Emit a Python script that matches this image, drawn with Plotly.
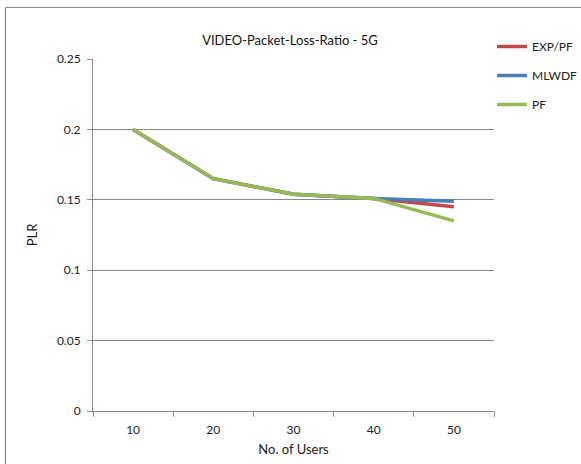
import plotly.graph_objects as go

users = ["10", "20", "30", "40", "50"]
exp_pf = [0.200, 0.165, 0.154, 0.151, 0.145]
mlwdf = [0.200, 0.165, 0.154, 0.151, 0.149]
pf = [0.200, 0.165, 0.154, 0.151, 0.135]
y_ticks = [0, 0.05, 0.1, 0.15, 0.2, 0.25]
y_tick_labels = ["0", "0.05", "0.1", "0.15", "0.2", "0.25"]

W, H = 581, 464
L, R, T, B = 93, 87, 59, 53
pw, ph = W - L - R, H - T - B

font = "Lato, 'Open Sans', sans-serif"
grid = "#888888"

fig = go.Figure()
for name, vals, col in [("EXP/PF", exp_pf, "#BE4B48"),
                        ("MLWDF", mlwdf, "#4A7EBB"),
                        ("PF", pf, "#98B954")]:
    fig.add_trace(go.Scatter(x=users, y=vals, name=name, mode="lines",
                             line=dict(color=col, width=3.5), legendgroup=name))

def px_x(p):
    return (p - L) / pw

def px_y(p):
    return 1 - (p - T) / ph

frame = dict(color="#8a8a8a", width=1.2)
fig.update_layout(
    width=W, height=H,
    margin=dict(l=L, r=R, t=T, b=B, autoexpand=False),
    paper_bgcolor="white", plot_bgcolor="white",
    font=dict(family=font, size=12, color="#222222"),
    title=dict(text="VIDEO-Packet-Loss-Ratio - 5G", x=(290) / W, xanchor="center",
               y=1 - 40 / H, yanchor="middle", font=dict(size=13, color="#111111")),
    xaxis=dict(type="category", range=[-0.5, 4.5], tickson="boundaries",
               ticks="outside", ticklen=5, tickcolor=grid, showline=True,
               linecolor=grid, linewidth=1, showgrid=False,
               ticklabelstandoff=8,
               title=dict(text="No. of Users", standoff=8, font=dict(size=13)),
               tickfont=dict(size=12)),
    yaxis=dict(range=[0, 0.25], tickvals=y_ticks, ticktext=y_tick_labels,
               ticks="outside", ticklen=5, tickcolor=grid, showline=True,
               linecolor=grid, linewidth=1, showgrid=True, gridcolor=grid,
               gridwidth=1, zeroline=False, ticklabelstandoff=4,
               title=dict(text="PLR", standoff=16, font=dict(size=13)),
               tickfont=dict(size=12)),
    legend=dict(x=px_x(492), y=px_y(32), xanchor="left", yanchor="top",
                font=dict(size=12), tracegroupgap=10, bgcolor="rgba(0,0,0,0)"),
    shapes=[
        dict(type="line", xref="paper", yref="paper",
             x0=px_x(5.5), x1=px_x(W + 5), y0=px_y(7.5), y1=px_y(7.5), line=frame),
        dict(type="line", xref="paper", yref="paper",
             x0=px_x(5.5), x1=px_x(5.5), y0=px_y(7.5), y1=px_y(H + 5), line=frame),
    ],
)

fig.write_html("out.html")
